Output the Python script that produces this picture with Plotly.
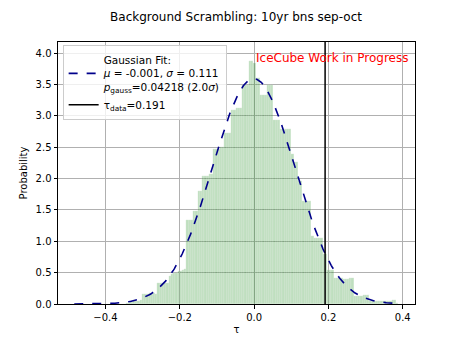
import numpy as np
import plotly.graph_objects as go

# Histogram of scrambled test statistic (bin width 0.006 starting at -0.35)
bin_start = -0.35
bin_width = 0.006
prob_density = [
    0.00, 0.01, 0.03, 0.03, 0.04, 0.05, 0.05, 0.06, 0.16, 0.16,
    0.16, 0.17, 0.16, 0.17, 0.16, 0.33, 0.33, 0.34, 0.33, 0.33,
    0.45, 0.48, 0.50, 0.50, 0.52, 0.53, 0.55, 0.56, 1.34, 1.34,
    1.34, 1.48, 1.48, 1.80, 1.80, 2.05, 2.05, 2.05, 2.07, 2.07,
    2.47, 2.47, 2.48, 2.50, 2.50, 2.73, 2.73, 2.73, 3.09, 3.10,
    3.13, 3.13, 3.13, 3.50, 3.50, 3.50, 3.88, 3.88, 3.85, 3.60,
    3.60, 3.33, 3.33, 3.33, 3.50, 3.50, 3.50, 2.94, 2.94, 2.94,
    2.80, 2.80, 2.80, 2.80, 2.80, 2.39, 2.27, 2.27, 1.97, 1.97,
    1.64, 1.64, 1.64, 1.64, 1.09, 1.06, 1.06, 1.06, 1.06, 0.80,
    0.80, 0.55, 0.55, 0.55, 0.41, 0.41, 0.41, 0.41, 0.40, 0.40,
    0.40, 0.42, 0.42, 0.12, 0.12, 0.12, 0.12, 0.15, 0.15, 0.15,
    0.05, 0.05, 0.05, 0.05, 0.05, 0.05, 0.05, 0.05, 0.05, 0.05,
    0.06, 0.06, 0.02,
]
bin_centers = bin_start + bin_width * (np.arange(len(prob_density)) + 0.5)

# Gaussian fit parameters and observed statistic
fit_mu = -0.001
fit_sigma = 0.111
p_gauss = 0.04218
n_sigma = 2.0
tau_data = 0.191
curve_range = (-0.484, 0.389)

tau_grid = np.linspace(curve_range[0], curve_range[1], 400)
gauss_pdf = np.exp(-0.5 * ((tau_grid - fit_mu) / fit_sigma) ** 2) / (fit_sigma * np.sqrt(2 * np.pi))

FONT = "DejaVu Sans"
y_max = 4.18
x_range = [-0.5277, 0.4329]

fig = go.Figure()

fig.add_trace(go.Bar(
    x=bin_centers, y=prob_density, width=bin_width,
    marker=dict(color="rgba(0,128,0,0.25)", line=dict(width=0.3, color="rgba(255,255,255,0.5)")),
    showlegend=False, hoverinfo="skip",
))

fit_label = (f"Gaussian Fit:<br><i>μ</i> = {fit_mu:.3f}, <i>σ</i> = {fit_sigma:.3f}"
             f"<br><i>p</i><sub>gauss</sub>={p_gauss:.5f} ({n_sigma:.1f}<i>σ</i>)")
fig.add_trace(go.Scatter(
    x=tau_grid, y=gauss_pdf, mode="lines",
    line=dict(color="darkblue", width=1.6, dash="dash"),
    name=fit_label,
))

fig.add_trace(go.Scatter(
    x=[tau_data, tau_data], y=[0, y_max], mode="lines",
    line=dict(color="black", width=1.5),
    name=f"τ<sub>data</sub>={tau_data:.3f}",
))

fig.add_annotation(
    x=0.0, y=3.92, xref="x", yref="y", text="IceCube Work in Progress",
    showarrow=False, xanchor="left", yanchor="middle",
    font=dict(family=FONT, size=12, color="red"),
)

axis_common = dict(
    showline=True, linecolor="black", linewidth=1, mirror=True,
    ticks="outside", ticklen=3.5, tickwidth=0.8, tickcolor="black",
    showgrid=True, gridcolor="#b0b0b0", gridwidth=0.8,
    zeroline=False, tickfont=dict(family=FONT, size=10, color="black"),
)

fig.update_layout(
    width=461, height=346,
    margin=dict(l=58, r=46, t=42, b=38),
    paper_bgcolor="white", plot_bgcolor="white",
    bargap=0,
    font=dict(family=FONT, size=10, color="black"),
    title=dict(text="Background Scrambling: 10yr bns sep-oct",
               x=0.512, xanchor="center", y=0.952, yanchor="middle", yref="container",
               font=dict(family=FONT, size=12, color="black")),
    legend=dict(
        x=0.013, y=0.987, xanchor="left", yanchor="top",
        bgcolor="rgba(255,255,255,0.8)", bordercolor="#cccccc", borderwidth=1,
        font=dict(family=FONT, size=10.5, color="black"),
        itemwidth=30, tracegroupgap=0,
    ),
    xaxis=dict(range=x_range, tickvals=[-0.4, -0.2, 0.0, 0.2, 0.4], tickformat=".1f",
               title=dict(text="τ", font=dict(family=FONT, size=10), standoff=4),
               **axis_common),
    yaxis=dict(range=[0, y_max], tickvals=[0, 0.5, 1.0, 1.5, 2.0, 2.5, 3.0, 3.5, 4.0], tickformat=".1f",
               title=dict(text="Probability", font=dict(family=FONT, size=10), standoff=6),
               **axis_common),
)

fig.write_html("out.html")
